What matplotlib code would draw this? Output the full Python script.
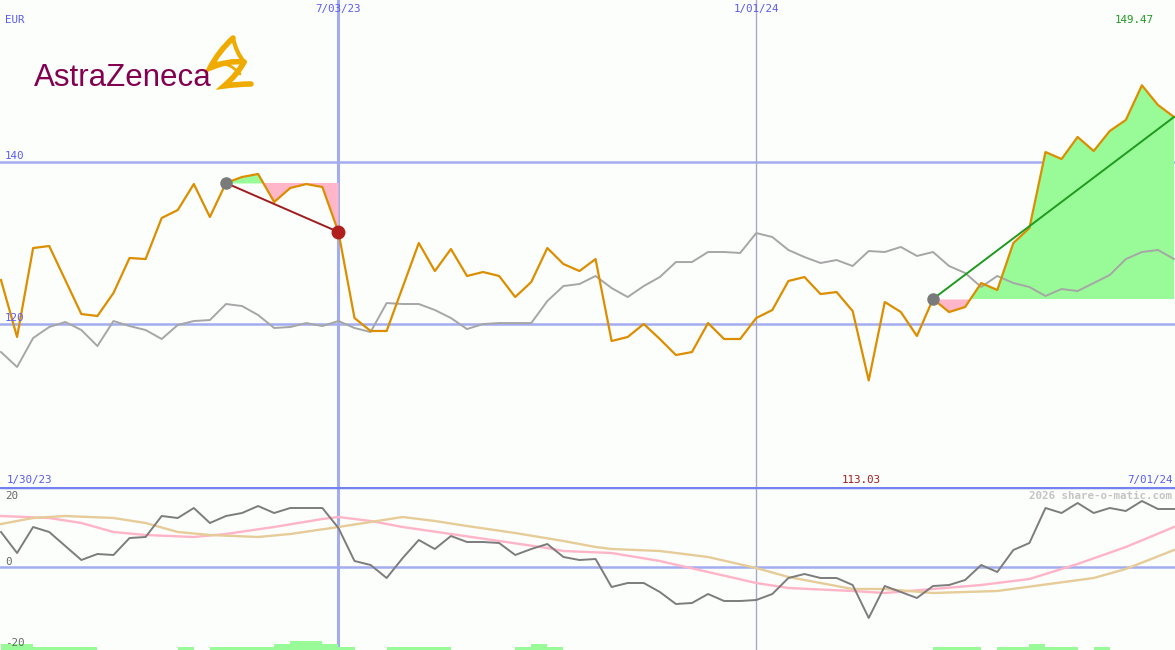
import matplotlib.pyplot as plt
import numpy as np
from matplotlib.path import Path
from matplotlib.patches import PathPatch

# weekly closes, AstraZeneca in EUR (orange) and the index it is compared with (gray)
price = [125.43, 118.40, 129.38, 129.63, 125.43, 121.23, 120.99, 123.83, 128.15, 128.02,
         133.09, 134.07, 137.28, 133.21, 137.41, 138.15, 138.52, 135.06, 136.79, 137.28,
         136.91, 131.36, 120.74, 119.14, 119.14, 124.57, 130.00, 126.54, 129.26, 125.93,
         126.42, 125.93, 123.33, 125.19, 129.38, 127.41, 126.54, 128.02, 117.90, 118.40,
         120.00, 118.15, 116.17, 116.54, 120.12, 118.15, 118.15, 120.74, 121.73, 125.31,
         125.80, 123.70, 123.95, 121.60, 113.03, 122.72, 121.48, 118.52, 123.09, 121.48,
         122.10, 125.06, 124.20, 130.00, 131.85, 141.23, 140.37, 143.09, 141.36, 143.83,
         145.19, 149.47, 147.04, 145.56]
index = [116.54, 114.69, 118.27, 119.63, 120.25, 119.26, 117.28, 120.37, 119.75, 119.26,
         118.15, 119.88, 120.37, 120.49, 122.47, 122.22, 121.11, 119.51, 119.63, 120.12,
         119.75, 120.37, 119.51, 119.01, 122.59, 122.47, 122.47, 121.73, 120.74, 119.38,
         120.00, 120.12, 120.12, 120.12, 122.84, 124.69, 124.94, 125.93, 124.44, 123.33,
         124.69, 125.80, 127.65, 127.65, 128.89, 128.89, 128.77, 131.23, 130.74, 129.14,
         128.27, 127.53, 127.90, 127.16, 129.01, 128.89, 129.51, 128.40, 128.89, 127.16,
         126.30, 124.57, 125.93, 125.06, 124.57, 123.46, 124.32, 124.07, 125.06, 126.05,
         128.02, 128.89, 129.14, 128.02]

# lower panel: momentum and its two averages
momentum = [8.75, 3.5, 10.0, 8.75, 5.25, 1.75, 3.25, 3.0, 7.25, 7.5,
            12.75, 12.25, 14.75, 11.0, 12.75, 13.5, 15.25, 13.5, 14.75, 14.75,
            14.75, 9.75, 1.5, 0.5, -2.75, 2.25, 6.75, 4.5, 7.75, 6.25,
            6.25, 6.0, 3.0, 4.5, 5.75, 2.5, 1.75, 2.0, -5.0, -4.0,
            -4.0, -6.25, -9.25, -9.0, -6.75, -8.5, -8.5, -8.25, -6.75, -2.75,
            -1.75, -2.75, -2.75, -4.5, -12.75, -4.75, -6.25, -7.75, -4.75, -4.5,
            -3.25, 0.5, -1.25, 4.25, 6.0, 14.75, 13.5, 16.0, 13.5, 14.75,
            14.0, 16.5, 14.5, 14.5]
pink_wk = [0, 3, 5, 7, 9, 12, 14, 17, 20, 21, 23, 25, 28, 31, 34, 35, 38, 41, 44, 47,
           49, 53, 55, 58, 61, 64, 67, 70, 73]
pink_ma = [12.75, 12.25, 11.0, 8.75, 8.0, 7.5, 8.25, 10.0, 12.0, 12.5, 11.5, 10.0, 8.25,
           6.5, 4.75, 4.0, 3.5, 1.5, -1.25, -4.0, -5.25, -6.0, -6.5, -5.5, -4.5, -3.0,
           0.75, 5.0, 10.0]
tan_wk = [0, 2, 4, 7, 9, 11, 13, 16, 18, 21, 23, 25, 27, 29, 32, 35, 37, 38, 41, 44, 47,
          49, 53, 55, 58, 62, 68, 70, 73]
tan_ma = [10.75, 12.25, 12.75, 12.25, 11.0, 8.75, 8.0, 7.5, 8.25, 10.0, 11.25, 12.5,
          11.5, 10.25, 8.5, 6.5, 5.0, 4.5, 4.0, 2.5, -0.25, -2.5, -5.5, -5.5, -6.5, -6.0,
          -2.75, -0.5, 4.25]
vol_level = [2, 2, 1, 1, 1, 1, 0, 0, 0, 0, 0, 1, 0, 1, 1, 1, 1, 2, 3, 3,
             2, 1, 0, 0, 1, 1, 1, 1, 0, 0, 0, 0, 1, 2, 1, 0, 0, 0, 0, 0,
             0, 0, 0, 0, 0, 0, 0, 0, 0, 0, 0, 0, 0, 0, 0, 0, 0, 0, 1, 1,
             1, 0, 1, 1, 2, 1, 1, 0, 1, 0, 0, 0, 0, 0]

# trend segments: (start week, end week, line colour)
trends = [(14, 21, '#a01c1c'), (58, 73, '#1f9a1f')]
date_wk = [21, 47]
date_lbl = ['7/03/23', '1/01/24']

W, H = 1175, 650
BG = '#fcfefc'
BLUE = '#5a5af0'
GRID = '#a4acf0'

weeks = np.arange(len(price))
price = np.array(price)

fig = plt.figure(figsize=(W / 100, H / 100), dpi=100, facecolor=BG)
top = fig.add_axes([0, 163 / H, 1, 487 / H])
bot = fig.add_axes([0, 0, 1, 163 / H])
for ax in (top, bot):
    ax.set_facecolor(BG)
    ax.set_xlim(-0.062, 73.06)
    ax.axis('off')
top.set_ylim(99.88, 160.0)
bot.set_ylim(-20.75, 20.0)

def fxy(x, y):
    return x / W, 1 - y / H

mono = 'DejaVu Sans Mono'

# grid
for lvl in (140, 120):
    top.axhline(lvl, color=GRID, lw=1.8, zorder=1)
top.axvline(date_wk[0], color=GRID, lw=2.2, zorder=1)
top.axvline(date_wk[1], color='#a8a8c8', lw=1, zorder=1)
bot.axvline(date_wk[0], color=GRID, lw=2.2, zorder=1)
bot.axvline(date_wk[1], color='#a8a8c8', lw=1, zorder=1)
bot.axhline(0, color=GRID, lw=1.8, zorder=1)
bot.axhline(20, color='#7282f0', lw=2.5, zorder=5)

# trend fills
for a, b, col in trends:
    xs = weeks[a:b + 1]
    ys = price[a:b + 1]
    lvl = price[a]
    top.fill_between(xs, ys, lvl, where=ys >= lvl, interpolate=True,
                     color='#98fb98', lw=0, zorder=2)
    top.fill_between(xs, ys, lvl, where=ys <= lvl, interpolate=True,
                     color='#ffb6c8', lw=0, zorder=2)

top.plot(weeks, index, color='#a6a6a6', lw=1.4, zorder=3)
top.plot(weeks, price, color='#dc8e00', lw=1.6, zorder=4)
for a, b, col in trends:
    top.plot([a, b], [price[a], price[b]], color=col, lw=1.4, zorder=5)
    top.plot(a, price[a], 'o', color='#7a7a7a', ms=8, zorder=6)
top.plot(trends[0][1], price[trends[0][1]], 'o', color='#b01e1e', ms=9, zorder=6)

# lower panel
bot.bar(weeks, np.array(vol_level) * 0.75, width=1.0, align='edge', bottom=-20.75,
        color='#98fb98', lw=0, zorder=2)
bot.plot(pink_wk, pink_ma, color='#ffb4c8', lw=1.7, zorder=3)
bot.plot(tan_wk, tan_ma, color='#e6cc98', lw=1.7, zorder=3)
bot.plot(weeks, momentum, color='#7c7c7c', lw=1.4, zorder=4)

# labels
fs = 7.8
fig.text(*fxy(5, 20), 'EUR', color=BLUE, fontsize=fs, family=mono, va='center')
fig.text(*fxy(5, 156), '140', color=BLUE, fontsize=fs, family=mono, va='center')
fig.text(*fxy(5, 318), '120', color=BLUE, fontsize=fs, family=mono, va='center')
for wk, lbl in zip(date_wk, date_lbl):
    fig.text(*fxy(1 + 16.07 * wk, 9), lbl, color=BLUE, fontsize=fs, family=mono,
             ha='center', va='center')
fig.text(*fxy(1154, 20), '%.2f' % price.max(), color='#1e9a1e', fontsize=fs, family=mono,
         ha='right', va='center')
fig.text(*fxy(7, 480), '1/30/23', color=BLUE, fontsize=fs, family=mono, va='center')
fig.text(*fxy(1 + 16.07 * int(price.argmin()) - 8, 480), '%.2f' % price.min(),
         color='#a01c1c', fontsize=fs, family=mono, ha='center', va='center')
fig.text(*fxy(1173, 480), '7/01/24', color=BLUE, fontsize=fs, family=mono,
         ha='right', va='center')
fig.text(*fxy(1172, 496), '2026 share-o-matic.com', color='#c4c4c4', fontsize=fs,
         family=mono, weight='bold', ha='right', va='center')
fig.text(*fxy(5, 496), '20', color='#666666', fontsize=fs, family=mono, va='center')
fig.text(*fxy(5, 562), '0', color='#666666', fontsize=fs, family=mono, va='center')
fig.text(*fxy(5, 643), '-20', color='#666666', fontsize=fs, family=mono, va='center')

# logo
fig.text(*fxy(34, 86), 'AstraZeneca', color='#830051', fontsize=22.5,
         family='Liberation Sans', va='baseline')
logo = fig.add_axes([198 / W, 1 - 92 / H, 60 / W, 60 / H])
logo.set_xlim(198, 258)
logo.set_ylim(92, 32)
logo.axis('off')
gold = '#f0ab00'
upper = [(233, 38), (218, 52), (210, 68), (228, 60), (244, 62)]
logo.add_patch(PathPatch(Path(upper, [Path.MOVETO, Path.CURVE3, Path.CURVE3,
                                      Path.CURVE3, Path.CURVE3]),
                         fill=False, ec=gold, lw=4, capstyle='round'))
right = [(233, 38), (236, 52), (244, 62)]
logo.add_patch(PathPatch(Path(right, [Path.MOVETO, Path.CURVE3, Path.CURVE3]),
                         fill=False, ec=gold, lw=3, capstyle='round'))
lens = [(215, 63), (230, 62), (240, 74)]
logo.add_patch(PathPatch(Path(lens, [Path.MOVETO, Path.CURVE3, Path.CURVE3]),
                         fill=False, ec=gold, lw=2, capstyle='round'))
lower = [(244, 62), (238, 74), (224, 86), (238, 84), (251, 84)]
logo.add_patch(PathPatch(Path(lower, [Path.MOVETO, Path.CURVE3, Path.CURVE3,
                                      Path.CURVE3, Path.CURVE3]),
                         fill=False, ec=gold, lw=4, capstyle='round'))

fig.savefig('out.png', dpi=100, facecolor=BG)
